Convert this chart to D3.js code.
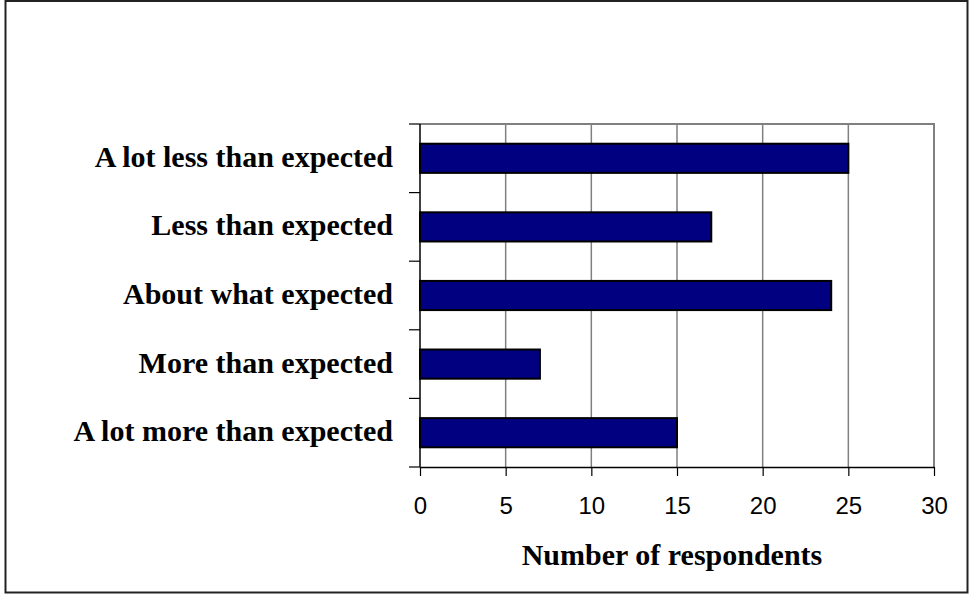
<!DOCTYPE html>
<html>
<head>
<meta charset="utf-8">
<script src="https://cdn.jsdelivr.net/npm/d3@7/dist/d3.min.js"></script>
<style>
  html, body { margin: 0; padding: 0; background: #fff; }
  svg { display: block; }
</style>
</head>
<body>
<svg id="chart" width="971" height="594"></svg>
<script>
// Survey responses, top to bottom
const categories = [
  "A lot less than expected",
  "Less than expected",
  "About what expected",
  "More than expected",
  "A lot more than expected"
];
const respondents = [25, 17, 24, 7, 15];
const xTicks = [0, 5, 10, 15, 20, 25, 30];
const xTitle = "Number of respondents";

const svg = d3.select("#chart");
const W = 971, H = 594;
const plot = { left: 420, top: 124, right: 934, bottom: 467 };
const serif = "'Liberation Serif', 'Times New Roman', serif";

// outer frame
svg.append("rect")
  .attr("x", 5.5).attr("y", 1).attr("width", W - 9).attr("height", H - 2.5)
  .attr("fill", "#fff").attr("stroke", "#222").attr("stroke-width", 2);

const x = d3.scaleLinear().domain([0, 30]).range([plot.left, plot.right]);
const y = d3.scaleBand().domain(categories).range([plot.top, plot.bottom]).paddingInner(0.575).paddingOuter(0.2875);
const yEdges = d3.scaleLinear().domain([0, categories.length]).range([plot.top, plot.bottom]);

// plot area border (top & right)
svg.append("path")
  .attr("d", `M${plot.left},${plot.top}H${plot.right}V${plot.bottom}`)
  .attr("fill", "none").attr("stroke", "#808080").attr("stroke-width", 2);

// vertical gridlines
svg.append("g").selectAll("line").data(xTicks.slice(1, -1)).join("line")
  .attr("x1", d => x(d)).attr("x2", d => x(d))
  .attr("y1", plot.top).attr("y2", plot.bottom)
  .attr("stroke", "#808080").attr("stroke-width", 1.5);

// bars
svg.append("g").selectAll("rect").data(categories).join("rect")
  .attr("x", x(0))
  .attr("y", d => y(d))
  .attr("width", (d, i) => x(respondents[i]) - x(0))
  .attr("height", y.bandwidth())
  .attr("fill", "#000080")
  .attr("stroke", "#000").attr("stroke-width", 2);

// x axis
const xAxis = d3.axisBottom(x).tickValues(xTicks).tickSize(9).tickPadding(21).tickSizeOuter(0);
const gx = svg.append("g").attr("transform", `translate(0,${plot.bottom})`).call(xAxis);
gx.select(".domain").attr("stroke", "#000").attr("stroke-width", 1.5);
gx.selectAll(".tick line").attr("stroke", "#000").attr("stroke-width", 1.2);
gx.selectAll(".tick text")
  .attr("fill", "#000")
  .style("font-family", "Arial, 'Liberation Sans', sans-serif")
  .style("font-size", "24px");

// y axis line and category separators
svg.append("line")
  .attr("x1", plot.left).attr("x2", plot.left)
  .attr("y1", plot.top).attr("y2", plot.bottom)
  .attr("stroke", "#000").attr("stroke-width", 1.5);
svg.append("g").selectAll("line").data(d3.range(categories.length + 1)).join("line")
  .attr("x1", plot.left - 11).attr("x2", plot.left)
  .attr("y1", d => yEdges(d)).attr("y2", d => yEdges(d))
  .attr("stroke", "#000").attr("stroke-width", 1.2);

// category labels
svg.append("g").selectAll("text").data(categories).join("text")
  .attr("x", 393)
  .attr("y", d => y(d) + y.bandwidth() / 2)
  .attr("dy", "0.28em")
  .attr("text-anchor", "end")
  .style("font-family", serif)
  .style("font-weight", "bold")
  .style("font-size", "30px")
  .attr("fill", "#000")
  .text(d => d);

// axis title
svg.append("text")
  .attr("x", 672)
  .attr("y", 565)
  .attr("text-anchor", "middle")
  .style("font-family", serif)
  .style("font-weight", "bold")
  .style("font-size", "30px")
  .attr("fill", "#000")
  .text(xTitle);
</script>
</body>
</html>
